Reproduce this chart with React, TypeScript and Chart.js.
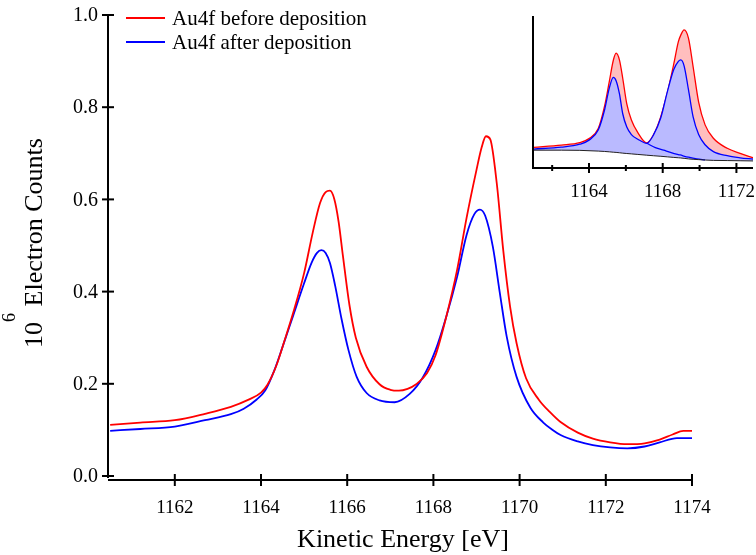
import React, { useEffect, useRef } from "react";
import { Chart, registerables } from "chart.js";

Chart.register(...registerables);

const FONT = '"Liberation Serif", "Times New Roman", serif';

// ---- Main chart data (10^6 electron counts vs kinetic energy, eV) ----
const redX = [1160.5, 1161.2, 1162.0, 1162.7, 1163.3, 1163.7, 1164.0, 1164.15, 1164.35, 1164.55, 1164.75, 1165.0, 1165.2, 1165.37, 1165.5, 1165.6, 1165.7, 1165.8, 1165.9, 1166.05, 1166.2, 1166.45, 1166.75, 1167.0, 1167.2, 1167.4, 1167.6, 1167.85, 1168.05, 1168.3, 1168.55, 1168.77, 1169.0, 1169.12, 1169.22, 1169.32, 1169.47, 1169.62, 1169.78, 1169.93, 1170.15, 1170.45, 1170.7, 1170.95, 1171.35, 1171.7, 1172.1, 1172.5, 1172.9, 1173.25, 1173.55, 1173.8, 1174.0];
const redY = [0.111, 0.116, 0.121, 0.135, 0.150, 0.165, 0.181, 0.198, 0.238, 0.295, 0.355, 0.440, 0.528, 0.592, 0.616, 0.619, 0.601, 0.552, 0.478, 0.372, 0.300, 0.237, 0.199, 0.187, 0.185, 0.189, 0.199, 0.223, 0.262, 0.346, 0.447, 0.560, 0.664, 0.713, 0.737, 0.730, 0.635, 0.490, 0.367, 0.288, 0.212, 0.165, 0.139, 0.117, 0.094, 0.081, 0.073, 0.069, 0.071, 0.079, 0.090, 0.098, 0.098];

const blueX = [1160.5, 1161.2, 1162.0, 1162.7, 1163.3, 1163.6, 1163.9, 1164.1, 1164.3, 1164.5, 1164.75, 1165.0, 1165.17, 1165.3, 1165.4, 1165.5, 1165.6, 1165.72, 1165.87, 1166.03, 1166.22, 1166.45, 1166.75, 1167.1, 1167.45, 1167.75, 1168.05, 1168.3, 1168.55, 1168.77, 1168.95, 1169.08, 1169.2, 1169.38, 1169.54, 1169.7, 1169.93, 1170.25, 1170.55, 1170.75, 1170.95, 1171.35, 1171.7, 1172.1, 1172.5, 1172.9, 1173.25, 1173.65, 1174.0];
const blueY = [0.098, 0.102, 0.107, 0.121, 0.134, 0.146, 0.166, 0.186, 0.227, 0.280, 0.349, 0.418, 0.462, 0.484, 0.490, 0.484, 0.462, 0.413, 0.340, 0.273, 0.215, 0.180, 0.164, 0.160, 0.178, 0.213, 0.273, 0.346, 0.432, 0.523, 0.568, 0.578, 0.565, 0.497, 0.398, 0.303, 0.215, 0.148, 0.116, 0.101, 0.089, 0.075, 0.067, 0.062, 0.060, 0.064, 0.073, 0.082, 0.082];

const seriesLabels = ["Au4f before deposition", "Au4f after deposition"];
const xTicks = [1162, 1164, 1166, 1168, 1170, 1172, 1174];
const yTicks = [0, 0.2, 0.4, 0.6, 0.8, 1.0];
const yTickLabels = ["0.0", "0.2", "0.4", "0.6", "0.8", "1.0"];

// ---- Inset data (peak components over background) ----
const insetX = [1161.0, 1162.5, 1163.5, 1164.0, 1164.5, 1164.85, 1165.1, 1165.32, 1165.47, 1165.65, 1165.83, 1166.05, 1166.3, 1166.65, 1167.13, 1167.5, 1167.9, 1168.25, 1168.6, 1168.85, 1168.98, 1169.16, 1169.4, 1169.65, 1169.95, 1170.3, 1170.75, 1171.5, 1172.2, 1172.9];
const insetRed = [0.111, 0.123, 0.136, 0.158, 0.212, 0.335, 0.465, 0.580, 0.618, 0.582, 0.483, 0.345, 0.258, 0.190, 0.135, 0.178, 0.278, 0.405, 0.560, 0.680, 0.715, 0.743, 0.698, 0.545, 0.355, 0.232, 0.160, 0.106, 0.079, 0.055];
const insetBlue = [0.102, 0.112, 0.128, 0.150, 0.204, 0.315, 0.430, 0.488, 0.470, 0.400, 0.292, 0.220, 0.180, 0.155, 0.133, 0.178, 0.272, 0.410, 0.530, 0.574, 0.582, 0.550, 0.420, 0.275, 0.180, 0.125, 0.088, 0.066, 0.055, 0.048];
const insetBackground = [0.096, 0.096, 0.095, 0.093, 0.091, 0.089, 0.087, 0.085, 0.084, 0.082, 0.080, 0.078, 0.076, 0.073, 0.069, 0.066, 0.063, 0.060, 0.057, 0.055, 0.054, 0.052, 0.049, 0.047, 0.045, 0.043, 0.041, 0.040, 0.039, 0.038];
const tailX = [1167.13, 1167.6, 1168.05, 1168.5, 1168.95, 1169.4, 1169.85, 1170.3];
const tailY = [0.133, 0.110, 0.096, 0.082, 0.070, 0.058, 0.049, 0.044];
const insetMajorTicks = [1164, 1168, 1172];
const insetMinorTicks = [1162, 1166, 1170];

const pts = (xs: number[], ys: number[]) => xs.map((x, i) => ({ x, y: ys[i] }));

function seg(ctx: CanvasRenderingContext2D, x1: number, y1: number, x2: number, y2: number) {
  ctx.beginPath();
  ctx.moveTo(x1, y1);
  ctx.lineTo(x2, y2);
  ctx.stroke();
}

const mainDecor = {
  id: "mainDecor",
  afterDraw(chart: any) {
    const { ctx, chartArea, scales } = chart;
    const xs = scales.x;
    const ys = scales.y;
    ctx.save();
    ctx.strokeStyle = "#000";
    ctx.fillStyle = "#000";
    ctx.lineWidth = 2;
    const ax = chartArea.left;
    const ay = chartArea.bottom;
    const y0 = ys.getPixelForValue(0);
    const yTop = ys.getPixelForValue(1);
    seg(ctx, ax, yTop, ax, y0 + 2);
    seg(ctx, ax, ay, chartArea.right, ay);
    yTicks.forEach((v) => {
      const p = ys.getPixelForValue(v);
      seg(ctx, ax - 6, p, ax + 6, p);
    });
    xTicks.forEach((v) => {
      const p = xs.getPixelForValue(v);
      seg(ctx, p, ay - 6, p, ay + 6);
    });
    ctx.font = `20px ${FONT}`;
    ctx.textAlign = "right";
    ctx.textBaseline = "middle";
    yTicks.forEach((v, i) => {
      ctx.fillText(yTickLabels[i], ax - 10, ys.getPixelForValue(v) + 1);
    });
    ctx.font = `19px ${FONT}`;
    ctx.textAlign = "center";
    ctx.textBaseline = "alphabetic";
    xTicks.forEach((v) => {
      ctx.fillText(String(v), xs.getPixelForValue(v), 513);
    });
    // x title
    ctx.font = `26px ${FONT}`;
    ctx.fillText("Kinetic Energy [eV]", (chartArea.left + chartArea.right) / 2 + 3, 547);
    // y title with raised superscript
    const big = `26px ${FONT}`;
    const small = `18px ${FONT}`;
    ctx.font = big;
    const w10 = ctx.measureText("10").width;
    const wRest = ctx.measureText(" Electron Counts").width;
    ctx.font = small;
    const w6 = ctx.measureText("6").width;
    const L = w10 + w6 + wRest;
    ctx.save();
    ctx.translate(42, 243 + L / 2);
    ctx.rotate(-Math.PI / 2);
    ctx.textAlign = "left";
    ctx.font = big;
    ctx.fillText("10", 0, 0);
    ctx.font = small;
    ctx.fillText("6", w10, -27);
    ctx.font = big;
    ctx.fillText(" Electron Counts", w10 + w6, 0);
    ctx.restore();
    // legend
    const colors = ["#ff0000", "#0000ff"];
    const ly = [18, 42];
    ctx.font = `21px ${FONT}`;
    ctx.textAlign = "left";
    ctx.textBaseline = "middle";
    seriesLabels.forEach((lab, i) => {
      ctx.strokeStyle = colors[i];
      ctx.lineWidth = 2;
      seg(ctx, 126, ly[i], 165, ly[i]);
      ctx.fillStyle = "#000";
      ctx.fillText(lab, 172, ly[i] + 1);
    });
    ctx.restore();
  },
};

const insetDecor = {
  id: "insetDecor",
  afterDraw(chart: any) {
    const { ctx, chartArea, scales } = chart;
    const xs = scales.x;
    ctx.save();
    ctx.strokeStyle = "#000";
    ctx.fillStyle = "#000";
    ctx.lineWidth = 2;
    const ax = chartArea.left;
    const ay = chartArea.bottom;
    seg(ctx, ax, chartArea.top, ax, ay);
    seg(ctx, ax - 1, ay, chartArea.right, ay);
    insetMajorTicks.forEach((v) => {
      const p = xs.getPixelForValue(v);
      seg(ctx, p, ay - 5, p, ay + 5);
    });
    insetMinorTicks.forEach((v) => {
      const p = xs.getPixelForValue(v);
      seg(ctx, p, ay - 3, p, ay + 3);
    });
    ctx.font = `19px ${FONT}`;
    ctx.textAlign = "center";
    ctx.textBaseline = "alphabetic";
    insetMajorTicks.forEach((v) => {
      ctx.fillText(String(v), xs.getPixelForValue(v), 197);
    });
    ctx.restore();
  },
};

export default function App() {
  const mainRef = useRef<HTMLCanvasElement>(null);
  const insetRef = useRef<HTMLCanvasElement>(null);

  useEffect(() => {
    const main = new Chart(mainRef.current!, {
      type: "line",
      data: {
        datasets: [
          {
            label: seriesLabels[0],
            data: pts(redX, redY),
            borderColor: "#ff0000",
            borderWidth: 1.8,
            pointRadius: 0,
            cubicInterpolationMode: "monotone",
            fill: false,
          },
          {
            label: seriesLabels[1],
            data: pts(blueX, blueY),
            borderColor: "#0000ff",
            borderWidth: 1.8,
            pointRadius: 0,
            cubicInterpolationMode: "monotone",
            fill: false,
          },
        ],
      },
      options: {
        responsive: false,
        animation: false,
        devicePixelRatio: 1,
        layout: { padding: { left: 108, right: 64, top: 15, bottom: 75 } },
        plugins: { legend: { display: false }, tooltip: { enabled: false } },
        scales: {
          x: { type: "linear", min: 1160.45, max: 1174, display: false },
          y: { type: "linear", min: -0.00868, max: 1.0, display: false },
        },
      },
      plugins: [mainDecor],
    });

    const inset = new Chart(insetRef.current!, {
      type: "line",
      data: {
        datasets: [
          {
            data: pts(insetX, insetRed),
            borderColor: "#ff0000",
            borderWidth: 1.3,
            pointRadius: 0,
            cubicInterpolationMode: "monotone",
            fill: { target: 3 },
            backgroundColor: "rgb(255,190,190)",
            order: 4,
          },
          {
            data: pts(insetX, insetBlue),
            borderColor: "#0000ff",
            borderWidth: 1.3,
            pointRadius: 0,
            cubicInterpolationMode: "monotone",
            fill: { target: 3 },
            backgroundColor: "rgb(186,186,255)",
            order: 3,
          },
          {
            data: pts(tailX, tailY),
            borderColor: "#0000ff",
            borderWidth: 1.3,
            pointRadius: 0,
            cubicInterpolationMode: "monotone",
            fill: false,
            order: 2,
          },
          {
            data: pts(insetX, insetBackground),
            borderColor: "#222222",
            borderWidth: 1,
            pointRadius: 0,
            cubicInterpolationMode: "monotone",
            fill: false,
            order: 1,
          },
        ],
      },
      options: {
        responsive: false,
        animation: false,
        devicePixelRatio: 1,
        layout: { padding: { left: 13, right: 3, top: 16, bottom: 32 } },
        plugins: { legend: { display: false }, tooltip: { enabled: false } },
        scales: {
          x: { type: "linear", min: 1160.96, max: 1172.9, display: false },
          y: { type: "linear", min: 0, max: 0.818, display: false },
        },
      },
      plugins: [insetDecor],
    });

    return () => {
      main.destroy();
      inset.destroy();
    };
  }, []);

  return (
    <div style={{ position: "absolute", left: 0, top: 0, width: 756, height: 555, background: "#fff" }}>
      <canvas ref={mainRef} width={756} height={555} style={{ position: "absolute", left: 0, top: 0, width: 756, height: 555 }} />
      <canvas ref={insetRef} width={236} height={200} style={{ position: "absolute", left: 520, top: 0, width: 236, height: 200 }} />
    </div>
  );
}
